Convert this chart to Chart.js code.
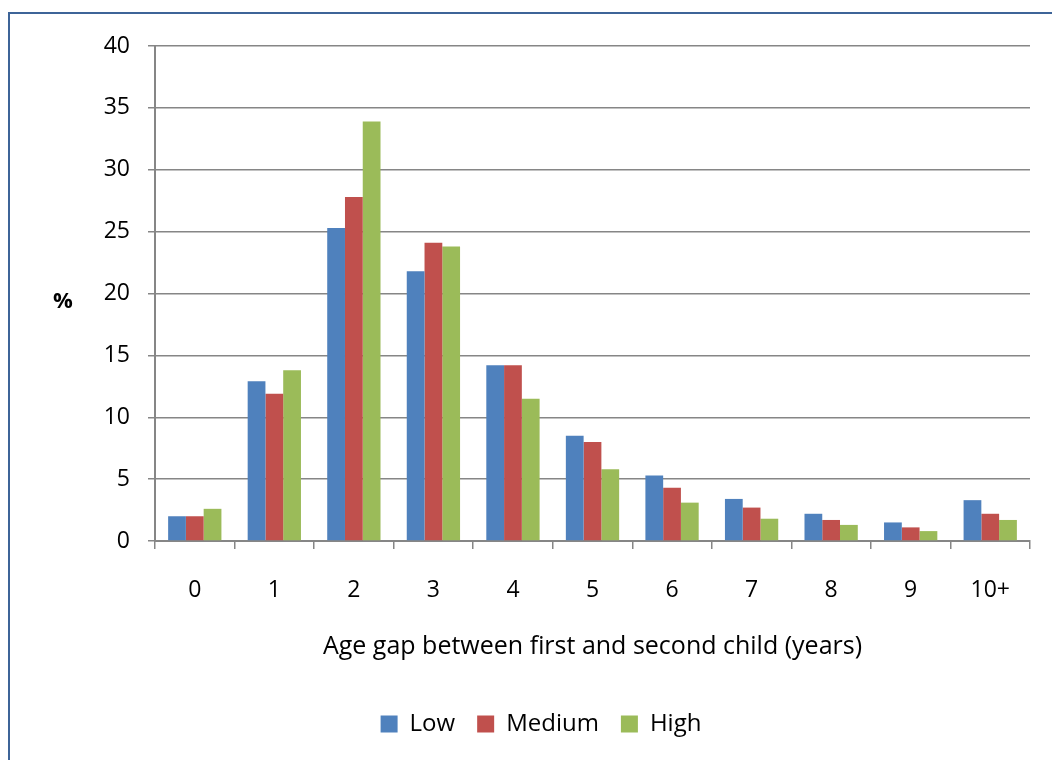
<!DOCTYPE html>
<html>
<head>
<meta charset="utf-8">
<script src="https://cdn.jsdelivr.net/npm/chart.js@4.4.1/dist/chart.umd.min.js"></script>
<style>
  body { margin: 0; background: #fff; }
  #wrap { position: relative; width: 1052px; height: 760px; overflow: hidden; }
  #frame { position: absolute; left: 8px; top: 12px; width: 1100px; height: 800px; border: 2px solid #3d6498; box-sizing: border-box; }
  canvas { position: absolute; left: 0; top: 0; }
</style>
</head>
<body>
<div id="wrap">
  <div id="frame"></div>
  <canvas id="gapChart" width="1052" height="760"></canvas>
</div>
<script>
const ageGaps = ['0', '1', '2', '3', '4', '5', '6', '7', '8', '9', '10+'];
const lowSeries = [2.0, 12.9, 25.3, 21.8, 14.2, 8.5, 5.3, 3.4, 2.2, 1.5, 3.3];
const mediumSeries = [2.0, 11.9, 27.8, 24.1, 14.2, 8.0, 4.3, 2.7, 1.7, 1.1, 2.2];
const highSeries = [2.6, 13.8, 33.9, 23.8, 11.5, 5.8, 3.1, 1.8, 1.3, 0.8, 1.7];
const yTicks = [0, 5, 10, 15, 20, 25, 30, 35, 40];

const font = 'Open Sans';
const axisGray = '#868686';

// "%" label sits upright left of the value axis
const percentLabel = {
    id: 'percentLabel',
    afterDraw(chart) {
        const ctx = chart.ctx;
        const y = chart.scales.y.getPixelForValue(20);
        ctx.save();
        ctx.font = 'bold 22px ' + font;
        ctx.fillStyle = '#000';
        ctx.textAlign = 'center';
        ctx.textBaseline = 'middle';
        ctx.fillText('%', 63, y + 8);
        ctx.restore();
    }
};

// legend in the original is a bit right of the canvas centre
const legendShift = {
    id: 'legendShift',
    afterLayout(chart) {
        chart.legend.left += 26;
        chart.legend.right += 26;
    }
};

new Chart(document.getElementById('gapChart'), {
    type: 'bar',
    data: {
        labels: ageGaps,
        datasets: [
            { label: 'Low', data: lowSeries, backgroundColor: '#4f81bd' },
            { label: 'Medium', data: mediumSeries, backgroundColor: '#c0504d' },
            { label: 'High', data: highSeries, backgroundColor: '#9bbb59' }
        ]
    },
    options: {
        responsive: false,
        animation: false,
        categoryPercentage: 0.67,
        barPercentage: 1.0,
        layout: { padding: { top: 46, right: 22, bottom: 14, left: 0 } },
        scales: {
            x: {
                afterFit(scale) { scale.height = 149; },
                grid: { offset: true, drawOnChartArea: false, drawTicks: true, tickLength: 8, color: axisGray, lineWidth: 1.5 },
                border: { display: true, color: axisGray, width: 2 },
                ticks: { color: '#000', font: { family: font, size: 23 }, padding: 28, maxRotation: 0 },
                title: { display: true, text: 'Age gap between first and second child (years)', color: '#000', font: { family: font, size: 25 }, padding: { top: 20, bottom: 28 } }
            },
            y: {
                min: 0,
                max: 40,
                afterFit(scale) { scale.width = 155; },
                afterBuildTicks(scale) { scale.ticks = yTicks.map(v => ({ value: v })); },
                grid: { color: axisGray, lineWidth: 1.5, drawTicks: true, tickLength: 7 },
                border: { display: true, color: axisGray, width: 2 },
                ticks: { color: '#000', font: { family: font, size: 23 }, padding: 18 }
            }
        },
        plugins: {
            legend: {
                position: 'bottom',
                labels: { color: '#000', font: { family: font, size: 24 }, boxWidth: 17, boxHeight: 17, padding: 22 }
            },
            tooltip: { enabled: false }
        }
    },
    plugins: [percentLabel, legendShift]
});
</script>
</body>
</html>
